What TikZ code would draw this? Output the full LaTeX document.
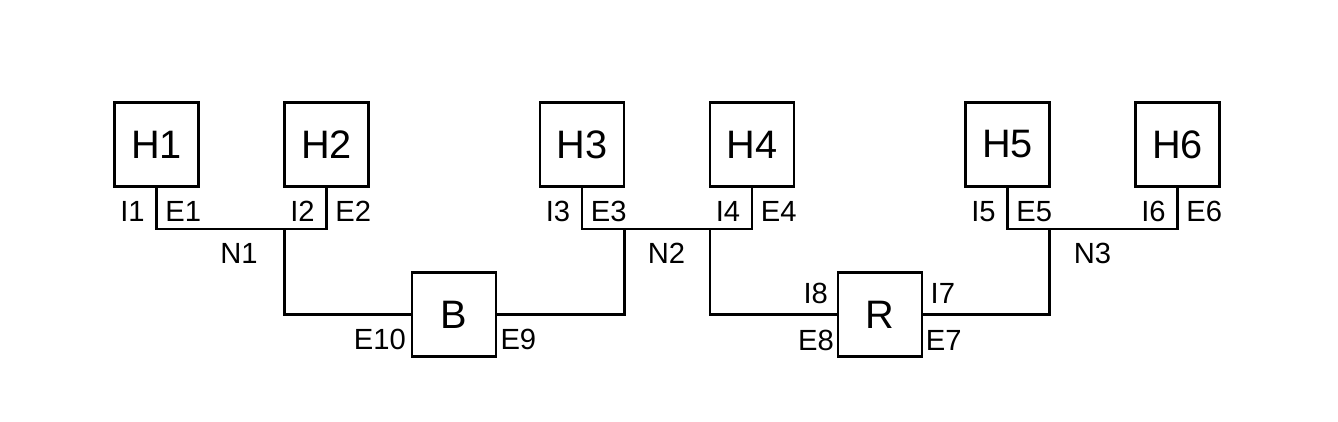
\documentclass[tikz,border=0pt]{standalone}
\usepackage{fontspec}
\setmainfont{Liberation Sans}
\usetikzlibrary{calc,positioning}

\begin{document}
\begin{tikzpicture}[line width=0.85pt,line join=miter,font=\fontsize{8.3}{10}\selectfont,
  box/.style={draw,minimum size=0.84cm,inner sep=0pt,font=\fontsize{11.3}{13}\selectfont}]
\useasboundingbox (0,0) rectangle (13.38,4.21);
% hosts
\node[box] (H1) at (1.565,2.765) {H1};
\node[box] (H2) at (3.265,2.765) {H2};
\node[box] (H3) at (5.820,2.765) {H3};
\node[box] (H4) at (7.520,2.765) {H4};
\node[box] (H5) at (10.075,2.765) {H5};
\node[box] (H6) at (11.775,2.765) {H6};
% bridge and router
\node[box] (B) at (4.540,1.065) {B};
\node[box] (R) at (8.800,1.065) {R};
% bus junctions
\coordinate (n1) at (2.845,1.92);
\coordinate (n2a) at (6.245,1.92);
\coordinate (n2b) at (7.100,1.92);
\coordinate (n3) at (10.493,1.92);
% network N1
\draw (H1.south) |- (n1) -| (H2.south);
\draw (n1) |- (B.west);
% network N2
\draw (H3.south) |- (n2a) -- (n2b) -| (H4.south);
\draw (B.east) -| (n2a);
\draw (n2b) |- (R.west);
% network N3
\draw (H5.south) |- (n3) -| (H6.south);
\draw (R.east) -| (n3);
% interface labels on hosts
\node[left,xshift=0.4pt] (I1) at ($(H1.south)+(0,-0.237)$) {I1}; \node[right,xshift=-1.2pt] (E1) at ($(H1.south)+(0,-0.237)$) {E1};
\node[left,xshift=0.4pt] (I2) at ($(H2.south)+(0,-0.237)$) {I2}; \node[right,xshift=-1.2pt] (E2) at ($(H2.south)+(0,-0.237)$) {E2};
\node[left,xshift=0.4pt] (I3) at ($(H3.south)+(0,-0.237)$) {I3}; \node[right,xshift=-1.2pt] (E3) at ($(H3.south)+(0,-0.237)$) {E3};
\node[left,xshift=0.4pt] (I4) at ($(H4.south)+(0,-0.237)$) {I4}; \node[right,xshift=-1.2pt] (E4) at ($(H4.south)+(0,-0.237)$) {E4};
\node[left,xshift=0.4pt] (I5) at ($(H5.south)+(0,-0.237)$) {I5}; \node[right,xshift=-1.2pt] (E5) at ($(H5.south)+(0,-0.237)$) {E5};
\node[left,xshift=0.4pt] (I6) at ($(H6.south)+(0,-0.237)$) {I6}; \node[right,xshift=-1.2pt] (E6) at ($(H6.south)+(0,-0.237)$) {E6};
% interface labels on B and R
\node[left,xshift=2.4pt] (E10) at ($(B.west)+(0,-0.245)$) {E10};
\node[right,xshift=-2.9pt] (E9) at ($(B.east)+(0,-0.245)$) {E9};
\node[above left,xshift=1.3pt,yshift=-0.7pt] (I8) at (R.west) {I8};
\node[left,xshift=3pt] (E8) at ($(R.west)+(0,-0.255)$) {E8};
\node[above right,xshift=-1.7pt,yshift=-0.7pt] (I7) at (R.east) {I7};
\node[right,xshift=-3.1pt] (E7) at ($(R.east)+(0,-0.255)$) {E7};
% network names
\node (N1) at (2.390,1.68) {N1};
\node (N2) at (6.665,1.68) {N2};
\node (N3) at (10.925,1.68) {N3};
\end{tikzpicture}
\end{document}
